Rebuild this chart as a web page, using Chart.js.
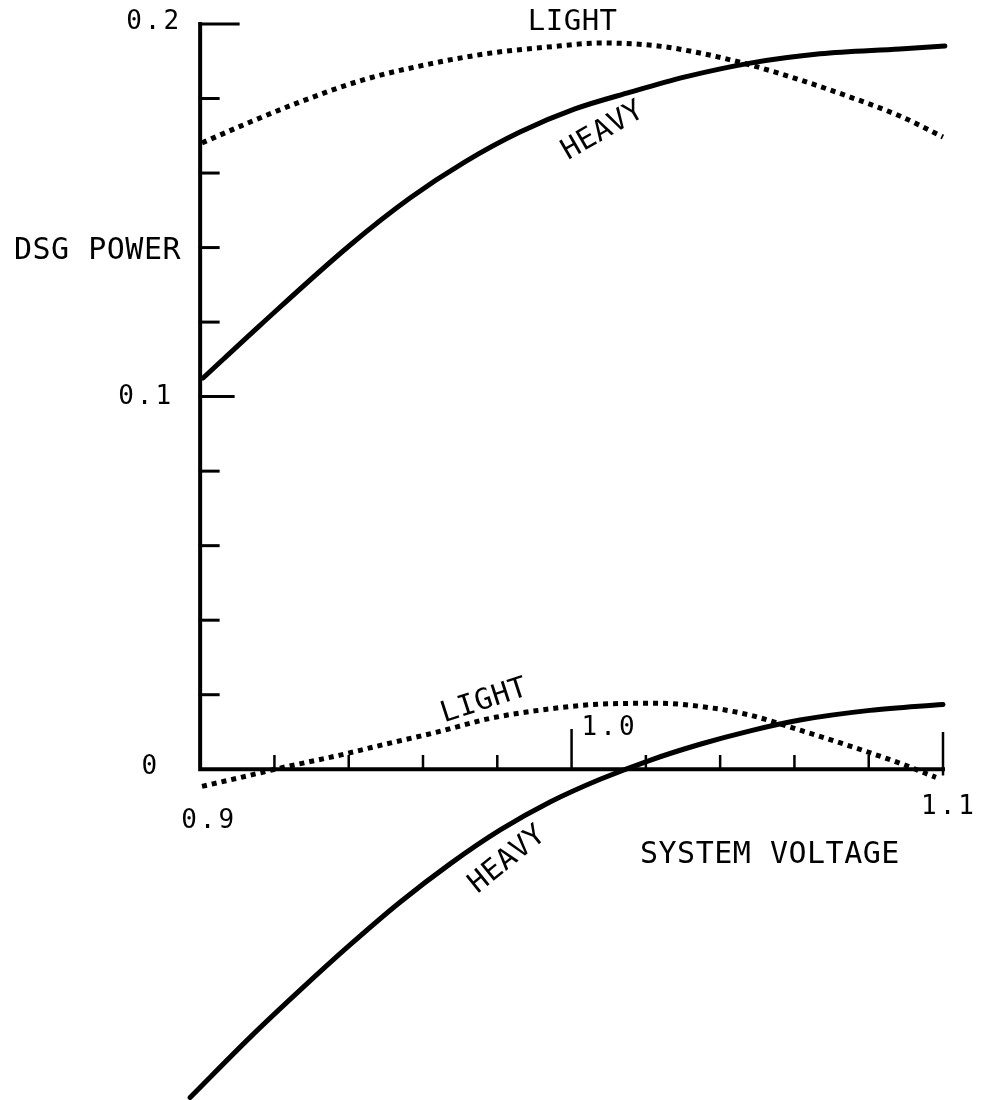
<!DOCTYPE html>
<html>
<head>
<meta charset="utf-8">
<script src="https://cdn.jsdelivr.net/npm/chart.js@4.4.1/dist/chart.umd.min.js"></script>
<style>
  html, body { margin: 0; padding: 0; background: #fff; }
  #wrap { width: 983px; height: 1100px; }
</style>
</head>
<body>
<div id="wrap"><canvas id="dsgChart" width="983" height="1100"></canvas></div>
<script>
// system voltage (x) and DSG power (y)
const lightUpperV = [0.9005, 0.9135, 0.9269, 0.9439, 0.9619, 0.9783, 0.9934, 1.0082, 1.0233, 1.0346, 1.0481, 1.0615, 1.0750, 1.0884, 1.1000];
const lightUpperP = [0.1681, 0.1737, 0.1791, 0.1850, 0.1893, 0.1922, 0.1938, 0.1949, 0.1941, 0.1922, 0.1890, 0.1850, 0.1804, 0.1753, 0.1697];

const heavyUpperV = [0.9008, 0.9162, 0.9404, 0.9565, 0.9713, 0.9861, 1.0009, 1.0158, 1.0306, 1.0481, 1.0669, 1.0884, 1.1005];
const heavyUpperP = [0.1050, 0.1192, 0.1407, 0.1533, 0.1630, 0.1710, 0.1772, 0.1817, 0.1858, 0.1895, 0.1920, 0.1933, 0.1941];

const lightLowerV = [0.9005, 0.9135, 0.9215, 0.9377, 0.9485, 0.9635, 0.9783, 0.9934, 1.0082, 1.0233, 1.0381, 1.0481, 1.0615, 1.0750, 1.0884, 1.0981];
const lightLowerP = [-0.0046, -0.0016, 0.0003, 0.0038, 0.0064, 0.0099, 0.0137, 0.0161, 0.0175, 0.0177, 0.0164, 0.0145, 0.0105, 0.0062, 0.0016, -0.0022];

const heavyLowerV = [0.8973, 0.9135, 0.9269, 0.9404, 0.9538, 0.9673, 0.9808, 0.9942, 1.0077, 1.0211, 1.0346, 1.0481, 1.0615, 1.0803, 1.1000];
const heavyLowerP = [-0.0881, -0.0719, -0.0593, -0.0471, -0.0357, -0.0254, -0.0163, -0.0088, -0.0027, 0.0024, 0.0067, 0.0103, 0.0132, 0.0158, 0.0174];

// axis ticks
const yTicks = [0, 0.02, 0.04, 0.06, 0.08, 0.1, 0.12, 0.14, 0.16, 0.18, 0.2];
const xTicks = [0.9, 0.92, 0.94, 0.96, 0.98, 1.0, 1.02, 1.04, 1.06, 1.08, 1.1];
const yLabels = ['0', '0.1', '0.2'];
const xLabels = ['0.9', '1.0', '1.1'];

function toPoints(v, p) {
    return v.map((x, i) => ({ x: x, y: p[i] }));
}

const FONT = '"DejaVu Sans Mono", monospace';

// draws the hand-made axes, ticks and text on top of the curves
const axesPlugin = {
    id: 'axesPlugin',
    afterDatasetsDraw(chart) {
        const ctx = chart.ctx;
        const xs = chart.scales.x;
        const ys = chart.scales.y;
        const x0 = xs.getPixelForValue(0.9);
        const x1 = xs.getPixelForValue(1.1);
        const yTop = ys.getPixelForValue(0.2);
        const yZero = ys.getPixelForValue(0);

        ctx.save();
        ctx.strokeStyle = '#000';
        ctx.fillStyle = '#000';
        ctx.lineCap = 'square';

        // axis lines
        ctx.lineWidth = 4;
        ctx.beginPath();
        ctx.moveTo(x0, yTop);
        ctx.lineTo(x0, yZero);
        ctx.lineTo(x1, yZero);
        ctx.stroke();

        // y ticks
        ctx.lineWidth = 3;
        yTicks.forEach(t => {
            const py = ys.getPixelForValue(t);
            let len = 18;
            if (Math.abs(t - 0.2) < 1e-9) len = 38;
            else if (Math.abs(t - 0.1) < 1e-9) len = 33;
            else if (t === 0) return;
            ctx.beginPath();
            ctx.moveTo(x0, py);
            ctx.lineTo(x0 + len, py);
            ctx.stroke();
        });

        // x ticks
        ctx.lineWidth = 2.5;
        xTicks.forEach(t => {
            const px = xs.getPixelForValue(t);
            let len = 13;
            if (Math.abs(t - 1.0) < 1e-9) len = 39;
            else if (Math.abs(t - 1.1) < 1e-9) len = 36;
            else if (Math.abs(t - 0.9) < 1e-9) return;
            ctx.beginPath();
            ctx.moveTo(px, yZero + (Math.abs(t - 1.1) < 1e-9 ? 5 : 0));
            ctx.lineTo(px, yZero - len);
            ctx.stroke();
        });

        // tick labels
        ctx.font = '26px ' + FONT;
        ctx.letterSpacing = '3px';
        ctx.textBaseline = 'middle';
        ctx.textAlign = 'right';
        ctx.fillText(yLabels[2], x0 - 18, yTop - 2);
        ctx.fillText(yLabels[1], x0 - 26, ys.getPixelForValue(0.1) + 1);
        ctx.fillText(yLabels[0], x0 - 40, yZero - 2);

        ctx.textAlign = 'center';
        ctx.fillText(xLabels[0], x0 + 9, yZero + 52);
        ctx.textAlign = 'left';
        ctx.fillText(xLabels[1], xs.getPixelForValue(1.0) + 10, yZero - 41);
        ctx.textAlign = 'right';
        ctx.fillText(xLabels[2], x1 + 34, yZero + 38);

        // axis titles
        ctx.letterSpacing = '0.5px';
        ctx.font = '30px ' + FONT;
        ctx.textAlign = 'left';
        ctx.fillText('DSG POWER', 14, ys.getPixelForValue(0.139));
        ctx.fillText('SYSTEM VOLTAGE', 640, yZero + 86);

        // curve labels
        const labels = [
            { t: 'LIGHT', v: 1.0003, p: 0.2004, r: 0 },
            { t: 'HEAVY', v: 1.0085, p: 0.1712, r: -30 },
            { t: 'LIGHT', v: 0.9765, p: 0.0182, r: -18 },
            { t: 'HEAVY', v: 0.9828, p: -0.0243, r: -39 }
        ];
        ctx.font = '29px ' + FONT;
        ctx.textAlign = 'center';
        labels.forEach(l => {
            ctx.save();
            ctx.translate(xs.getPixelForValue(l.v), ys.getPixelForValue(l.p));
            ctx.rotate(l.r * Math.PI / 180);
            ctx.fillText(l.t, 0, 0);
            ctx.restore();
        });
        ctx.restore();
    }
};

const dotted = { borderDash: [5, 5], borderWidth: 5, borderCapStyle: 'butt' };
const solid = { borderWidth: 5, borderCapStyle: 'round' };

const ctx = document.getElementById('dsgChart').getContext('2d');
const chart = new Chart(ctx, {
    type: 'line',
    data: {
        datasets: [
            Object.assign({ label: 'LIGHT', data: toPoints(lightUpperV, lightUpperP) }, dotted),
            Object.assign({ label: 'HEAVY', data: toPoints(heavyUpperV, heavyUpperP) }, solid),
            Object.assign({ label: 'LIGHT (low)', data: toPoints(lightLowerV, lightLowerP) }, dotted),
            Object.assign({ label: 'HEAVY (low)', data: toPoints(heavyLowerV, heavyLowerP) }, solid)
        ].map(d => Object.assign(d, {
            borderColor: '#000',
            backgroundColor: '#000',
            pointRadius: 0,
            cubicInterpolationMode: 'monotone',
            fill: false,
            clip: false
        }))
    },
    options: {
        responsive: false,
        animation: false,
        devicePixelRatio: 1,
        layout: { padding: { left: 189, right: 40, top: 24, bottom: 1 } },
        plugins: {
            legend: { display: false },
            tooltip: { enabled: false },
            title: { display: false }
        },
        scales: {
            x: { type: 'linear', min: 0.897, max: 1.1, display: false },
            y: { type: 'linear', min: -0.0885, max: 0.2, display: false }
        }
    },
    plugins: [axesPlugin]
});
</script>
</body>
</html>
